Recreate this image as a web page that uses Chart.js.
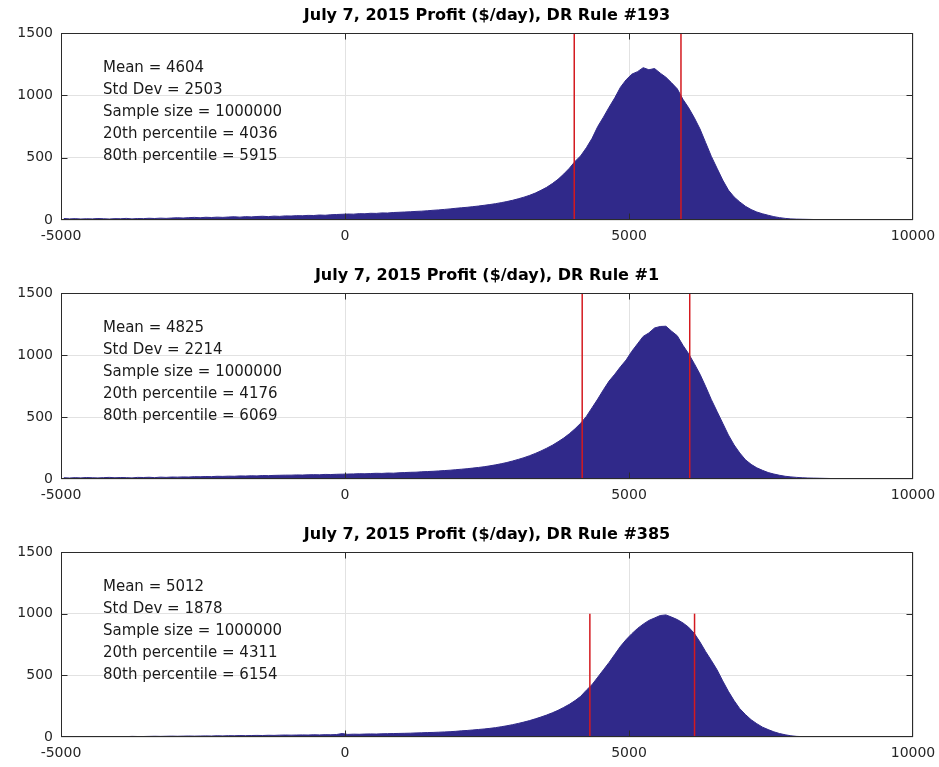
<!DOCTYPE html>
<html>
<head>
<meta charset="utf-8">
<title>July 7, 2015 Profit ($/day)</title>
<script src="https://cdn.jsdelivr.net/npm/chart.js@4.4.1/dist/chart.umd.min.js"></script>
<style>
    html, body { margin: 0; padding: 0; background: #fff; }
    #wrap { position: relative; width: 939px; height: 767px; overflow: hidden; }
    #wrap canvas { position: absolute; left: 0; }
</style>
</head>
<body>
<div id="wrap">
    <canvas id="chart0" width="939" height="250" style="top:0px"></canvas>
    <canvas id="chart1" width="939" height="249" style="top:260px"></canvas>
    <canvas id="chart2" width="939" height="248" style="top:519px"></canvas>
</div>
<script>
// histogram bins: 150 bins of 100 $/day starting at -5000
const binStart = -5000;
const binWidth = 100;

const ruleIds = [193, 1, 385];
const means = [4604, 4825, 5012];
const stdDevs = [2503, 2214, 1878];
const sampleSizes = [1000000, 1000000, 1000000];
const pct20 = [4036, 4176, 4311];
const pct80 = [5915, 6069, 6154];
const markerTops = [1500, 1500, 1000];

const xTicks = [-5000, 0, 5000, 10000];
const yTicks = [0, 500, 1000, 1500];

// counts per bin (rows of 1000 $/day)
const counts193 = [
    12, 9, 11, 8, 10, 9, 12, 10, 8, 11,
    10, 13, 9, 12, 11, 14, 12, 15, 13, 16,
    18, 16, 19, 21, 18, 22, 20, 23, 21, 24,
    26, 23, 27, 25, 28, 30, 27, 31, 29, 33,
    32, 35, 34, 37, 36, 40, 38, 42, 44, 46,
    48, 47, 51, 50, 54, 53, 57, 56, 60, 62,
    64, 66, 69, 71, 74, 78, 81, 85, 89, 94,
    98, 102, 107, 112, 118, 124, 131, 139, 148, 158,
    170, 183, 198, 216, 238, 262, 292, 326, 368, 415,
    470, 515, 580, 655, 750, 825, 905, 980, 1065, 1125,
    1170, 1190, 1222, 1205, 1215, 1178, 1145, 1100, 1052, 968,
    900, 820, 730, 620, 510, 415, 320, 240, 185, 145,
    110, 84, 64, 50, 38, 27, 19, 13, 9, 7,
    6, 5, 4, 3, 3, 2, 2, 2, 1, 2,
    1, 1, 0, 0, 0, 0, 0, 0, 0, 0
];
const counts1 = [
    10, 8, 11, 9, 12, 10, 9, 11, 13, 10,
    12, 11, 9, 13, 12, 14, 11, 15, 13, 16,
    15, 17, 16, 19, 18, 20, 19, 22, 21, 23,
    22, 25, 24, 26, 25, 28, 27, 29, 30, 31,
    31, 33, 32, 34, 35, 34, 37, 36, 38, 39,
    40, 41, 43, 42, 44, 46, 45, 48, 47, 50,
    52, 54, 55, 58, 60, 62, 65, 68, 71, 75,
    79, 83, 88, 93, 99, 106, 114, 123, 133, 145,
    158, 172, 188, 206, 226, 248, 272, 300, 330, 365,
    405, 450, 505, 575, 645, 720, 790, 845, 905, 960,
    1030, 1090, 1150, 1178, 1218, 1230, 1232, 1192, 1155, 1078,
    1010, 930, 845, 745, 640, 545, 450, 355, 275, 210,
    155, 118, 90, 70, 52, 40, 30, 22, 17, 13,
    10, 8, 7, 6, 5, 4, 4, 3, 3, 3,
    2, 2, 3, 1, 1, 0, 0, 0, 0, 0
];
const counts385 = [
    2, 1, 3, 2, 2, 3, 2, 4, 3, 3,
    4, 3, 5, 4, 4, 5, 6, 5, 6, 7,
    6, 7, 8, 7, 8, 9, 8, 10, 9, 11,
    10, 12, 11, 12, 13, 12, 14, 13, 15, 16,
    15, 16, 17, 16, 18, 17, 19, 18, 20, 28,
    21, 23, 22, 24, 25, 24, 26, 27, 28, 29,
    30, 31, 33, 34, 36, 37, 39, 41, 43, 46,
    50, 53, 57, 61, 65, 70, 76, 83, 91, 100,
    110, 121, 133, 147, 162, 178, 196, 216, 240, 265,
    295, 330, 380, 425, 485, 545, 605, 670, 735, 790,
    838, 880, 915, 945, 965, 985, 990, 972, 952, 925,
    890, 840, 770, 692, 620, 545, 455, 370, 295, 230,
    182, 140, 108, 80, 60, 42, 28, 18, 10, 5,
    3, 2, 1, 1, 1, 0, 0, 0, 0, 0,
    0, 0, 0, 0, 0, 0, 0, 0, 0, 0
];

const allCounts = [counts193, counts1, counts385];

const histColor = '#30298a';
const markerColor = '#d41a1f';
const fontFamily = '"DejaVu Sans", "Liberation Sans", sans-serif';

// draws the closed box, inward tick marks and the stats text block
const framePlugin = {
    id: 'matlabFrame',
    afterDraw(chart, args, opts) {
        const ctx = chart.ctx;
        const a = chart.chartArea;
        const xs = chart.scales.x;
        const ys = chart.scales.y;
        const l = Math.round(a.left) + 0.5;
        const r = Math.round(a.right) - 0.5;
        const t = Math.round(a.top) + 0.5;
        const b = Math.round(a.bottom) - 0.5;

        ctx.save();
        ctx.strokeStyle = '#2b2b2b';
        ctx.lineWidth = 1;
        ctx.beginPath();
        xTicks.forEach(v => {
            let px = Math.round(xs.getPixelForValue(v)) + 0.5;
            if (px <= l + 1 || px >= r - 1) return;
            ctx.moveTo(px, t); ctx.lineTo(px, t + 6);
            ctx.moveTo(px, b); ctx.lineTo(px, b - 6);
        });
        yTicks.forEach(v => {
            let py = Math.round(ys.getPixelForValue(v)) + 0.5;
            if (py <= t + 1 || py >= b - 1) return;
            ctx.moveTo(l, py); ctx.lineTo(l + 6, py);
            ctx.moveTo(r, py); ctx.lineTo(r - 6, py);
        });
        ctx.stroke();
        ctx.strokeRect(l, t, r - l, b - t);

        ctx.fillStyle = '#1a1a1a';
        ctx.font = '15px ' + fontFamily;
        ctx.textAlign = 'left';
        ctx.textBaseline = 'middle';
        (opts.lines || []).forEach((line, i) => {
            ctx.fillText(line, a.left + 42, a.top + 35 + i * 22);
        });
        ctx.restore();
    }
};

function binCentres(n) {
    let xs = [];
    for (let i = 0; i < n; i++) xs.push(binStart + binWidth * (i + 0.5));
    return xs;
}

function makeChart(i) {
    const counts = allCounts[i];
    const centres = binCentres(counts.length);
    const ctx = document.getElementById('chart' + i).getContext('2d');

    const statLines = [
        'Mean = ' + means[i],
        'Std Dev = ' + stdDevs[i],
        'Sample size = ' + sampleSizes[i],
        '20th percentile = ' + pct20[i],
        '80th percentile = ' + pct80[i]
    ];

    return new Chart(ctx, {
        type: 'line',
        data: {
            datasets: [
                {
                    data: centres.map((x, k) => ({ x: x, y: counts[k] })),
                    backgroundColor: histColor,
                    borderColor: histColor,
                    borderWidth: 1,
                    pointRadius: 0,
                    tension: 0,
                    fill: 'origin',
                    order: 3
                },
                {
                    data: [{ x: pct20[i], y: 0 }, { x: pct20[i], y: markerTops[i] }],
                    borderColor: markerColor,
                    borderWidth: 1.5,
                    pointRadius: 0,
                    fill: false,
                    order: 1
                },
                {
                    data: [{ x: pct80[i], y: 0 }, { x: pct80[i], y: markerTops[i] }],
                    borderColor: markerColor,
                    borderWidth: 1.5,
                    pointRadius: 0,
                    fill: false,
                    order: 1
                }
            ]
        },
        options: {
            responsive: false,
            animation: false,
            events: [],
            layout: { padding: { left: 0, right: 26, top: 0, bottom: 0 } },
            scales: {
                x: {
                    type: 'linear',
                    min: xTicks[0],
                    max: xTicks[xTicks.length - 1],
                    afterBuildTicks: s => { s.ticks = xTicks.map(v => ({ value: v })); },
                    afterFit: s => { s.height = 30; s.paddingLeft = 0; s.paddingRight = 0; },
                    grid: { color: '#e2e2e2', drawTicks: false },
                    border: { display: false },
                    ticks: {
                        padding: 8,
                        color: '#262626',
                        font: { family: fontFamily, size: 14 },
                        maxRotation: 0,
                        autoSkip: false,
                        callback: v => String(v)
                    }
                },
                y: {
                    min: yTicks[0],
                    max: yTicks[yTicks.length - 1],
                    afterBuildTicks: s => { s.ticks = yTicks.map(v => ({ value: v })); },
                    afterFit: s => { s.width = 61; s.paddingTop = 0; s.paddingBottom = 0; },
                    grid: { color: '#e2e2e2', drawTicks: false },
                    border: { display: false },
                    ticks: {
                        padding: 8,
                        color: '#262626',
                        font: { family: fontFamily, size: 14 },
                        callback: v => String(v)
                    }
                }
            },
            plugins: {
                legend: { display: false },
                tooltip: { enabled: false },
                title: {
                    display: true,
                    fullSize: false,
                    text: 'July 7, 2015 Profit ($/day), DR Rule #' + ruleIds[i],
                    color: '#000',
                    font: { family: fontFamily, size: 16, weight: 'bold' },
                    padding: { top: 6, bottom: 7.8 }
                },
                matlabFrame: { lines: statLines }
            }
        },
        plugins: [framePlugin]
    });
}

document.addEventListener("DOMContentLoaded", function () {
    for (let i = 0; i < ruleIds.length; i++) makeChart(i);
});
</script>
</body>
</html>
